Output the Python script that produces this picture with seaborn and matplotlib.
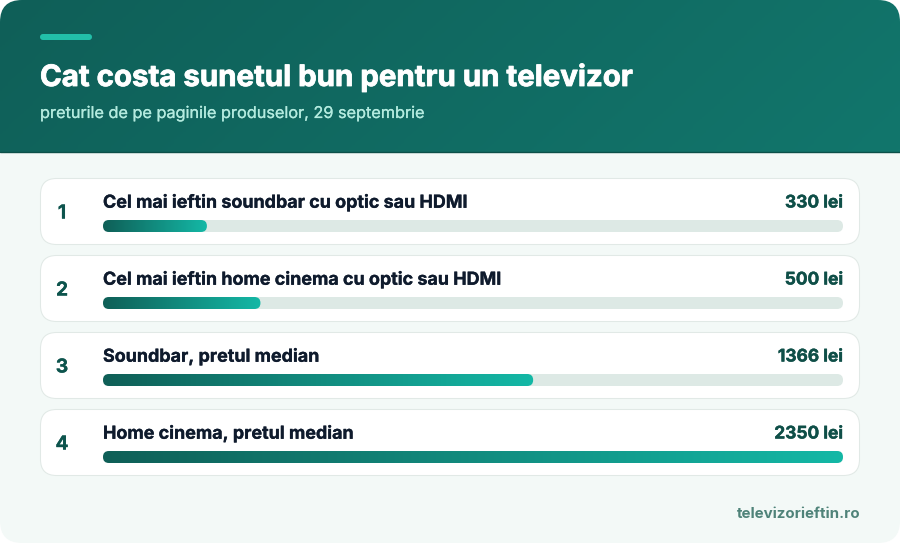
import matplotlib
matplotlib.use("Agg")
import matplotlib.pyplot as plt
import matplotlib.patheffects as pe
from matplotlib.colors import LinearSegmentedColormap
from matplotlib.patches import FancyBboxPatch
import numpy as np
import pandas as pd
import seaborn as sns

# Data
ranks = ["1", "2", "3", "4"]
labels = [
    "Cel mai ieftin soundbar cu optic sau HDMI",
    "Cel mai ieftin home cinema cu optic sau HDMI",
    "Soundbar, pretul median",
    "Home cinema, pretul median",
]
prices = [330, 500, 1366, 2350]
unit = "lei"
title = "Cat costa sunetul bun pentru un televizor"
subtitle = "preturile de pe paginile produselor, 29 septembrie"
source = "televizorieftin.ro"

W, H = 900, 543
ROW_STEP = 77
BAR_H = 12

sns.set_theme(style="white")
plt.rcParams["font.family"] = ["Inter", "DejaVu Sans"]

df = pd.DataFrame({"label": labels, "price": prices, "track": max(prices)})

fig = plt.figure(figsize=(W / 100, H / 100), dpi=100, facecolor="white")

# background axes, works in pixels from the top left
bg = fig.add_axes([0, 0, 1, 1])
bg.set_xlim(0, W)
bg.set_ylim(H, 0)
bg.axis("off")


def rounded(x0, y0, x1, y1, r, **kw):
    p = FancyBboxPatch((x0 + r, y0 + r), x1 - x0 - 2 * r, y1 - y0 - 2 * r,
                       boxstyle=f"round,pad={r},rounding_size={r}",
                       transform=bg.transData, **kw)
    return p


def heavy(color, w):
    # Inter only comes in a lighter bold here, thicken it a bit
    return [pe.withStroke(linewidth=w, foreground=color)]


panel = rounded(0, 0, W, H, 22, fc="#f3f9f7", ec="none", zorder=1)
bg.add_patch(panel)

# header with diagonal gradient
head_cmap = LinearSegmentedColormap.from_list("head", ["#0f5f58", "#12766c"])
xx, yy = np.meshgrid(np.linspace(0, 1, 300), np.linspace(0, 1, 60))
head = bg.imshow(xx * 0.85 + yy * 0.15, cmap=head_cmap, extent=(0, W, 152, 0),
                 aspect="auto", vmin=0, vmax=1, zorder=2)
head.set_clip_path(panel)
bg.plot([0, W], [151.5, 151.5], color="#0c5049", lw=1, zorder=3)
bg.set_xlim(0, W)
bg.set_ylim(H, 0)

bg.add_patch(rounded(40, 34, 92, 40, 3, fc="#22bfa9", ec="none", zorder=3))
bg.text(40, 78, title, color="white", fontsize=21.2, fontweight="bold",
        va="center", ha="left", zorder=4, path_effects=heavy("white", 0.6))
bg.text(40, 113.5, subtitle, color="#b4ebdf", fontsize=11.7, va="center",
        ha="left", zorder=4, path_effects=heavy("#b4ebdf", 0.15))
bg.text(860.5, 514, source, color="#4f8379", fontsize=10.85, fontweight="bold",
        va="center", ha="right", zorder=4)

# bar axes: the x scale is the price, the track is the largest price
ax = fig.add_axes([103 / W, (H - 495.5) / H, 740 / W, 4 * ROW_STEP / H])
ax.patch.set_alpha(0)
sns.barplot(data=df, y="label", x="track", color="#dde9e5", orient="h",
            width=BAR_H / ROW_STEP, ax=ax)
n_track = len(ax.patches)
sns.barplot(data=df, y="label", x="price", color="#14b8a6", orient="h",
            width=BAR_H / ROW_STEP, ax=ax)
ax.set_xlim(0, max(prices))
ax.set_ylim(len(labels) - 0.5, -0.5)
ax.axis("off")

bar_cmap = LinearSegmentedColormap.from_list("bar", ["#0f5f57", "#14b8a6"])
grad = np.linspace(0, 1, 256).reshape(1, -1)
to_px = bg.transData.inverted()

patches = list(ax.patches)
for i, bar in enumerate(patches):
    (x0, y0), (x1, y1) = to_px.transform(ax.transData.transform(
        [(bar.get_x(), bar.get_y()), (bar.get_x() + bar.get_width(), bar.get_y() + bar.get_height())]))
    y0, y1 = min(y0, y1), max(y0, y1)
    bar.set_visible(False)
    if i < n_track:
        row = i
        top = y0 - 41.5
        bg.add_patch(rounded(40.5, top, 859.5, top + 66, 16, fc="white",
                             ec="#e1e9e6", lw=0.75, zorder=3))
        bg.add_patch(rounded(x0, y0, x1, y1, BAR_H / 2, fc="#dde9e5", ec="none", zorder=4))
        bg.text(62, y0 - 6.5, ranks[row], color="#0d544d", fontsize=13.8, fontweight="bold",
                va="center", ha="center", zorder=5, path_effects=heavy("#0d544d", 0.2))
        bg.text(103, y0 - 17, labels[row], color="#0f1b2d", fontsize=12.9, fontweight="bold",
                va="center", ha="left", zorder=5, path_effects=heavy("#0f1b2d", 0.2))
        bg.text(843, y0 - 17, f"{prices[row]} {unit}", color="#0f4f48", fontsize=12.5,
                fontweight="bold", va="center", ha="right", zorder=5,
                path_effects=heavy("#0f4f48", 0.3))
    else:
        clip = rounded(x0, y0, x1, y1, BAR_H / 2, fc="none", ec="none")
        im = bg.imshow(grad, cmap=bar_cmap, extent=(x0, x1, y1, y0), aspect="auto", zorder=5)
        bg.add_patch(clip)
        im.set_clip_path(clip)

bg.set_xlim(0, W)
bg.set_ylim(H, 0)

fig.savefig("out.png", dpi=100)
